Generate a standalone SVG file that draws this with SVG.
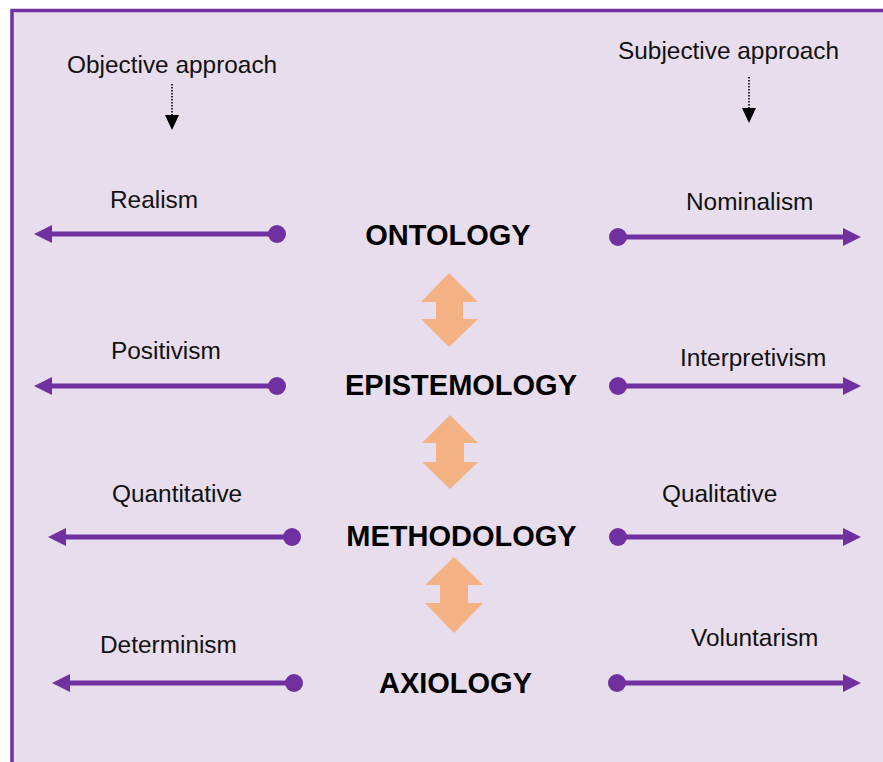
<svg xmlns="http://www.w3.org/2000/svg" width="883" height="762" viewBox="0 0 883 762">
  <style>
    .lbl { font-family: "Liberation Sans", Arial, sans-serif; font-size: 24.4px; fill: #111111; }
    .core { font-family: "Liberation Sans", Arial, sans-serif; font-size: 29px; font-weight: bold; fill: #000000; text-anchor: middle; }
    .scale { stroke: #7030A0; stroke-width: 5; fill: none; }
    .dot { fill: #7030A0; }
    .head { fill: #7030A0; }
    .dotted { stroke: #000000; stroke-width: 1.6; stroke-dasharray: 1.6 1.4; fill: none; }
    .pointer { fill: #000000; }
    .link { fill: #F4B183; }
  </style>

  <!-- background panel -->
  <rect x="0" y="0" width="883" height="762" fill="#ffffff"/>
  <rect x="12" y="10.5" width="900" height="800" fill="#E8DDEC" stroke="#7030A0" stroke-width="3.5"/>

  <!-- approach headings -->
  <g id="objective">
    <text class="lbl" x="67" y="73">Objective approach</text>
  </g>
  <g id="subjective">
    <text class="lbl" x="618" y="59">Subjective approach</text>
  </g>

  <!-- philosophy levels -->
  <g id="ontology"><text class="core" x="448" y="245">ONTOLOGY</text></g>
  <g id="epistemology"><text class="core" x="461" y="395">EPISTEMOLOGY</text></g>
  <g id="methodology"><text class="core" x="461.5" y="546">METHODOLOGY</text></g>
  <g id="axiology"><text class="core" x="455.5" y="693">AXIOLOGY</text></g>

  <!-- scale poles -->
  <g id="realism"><text class="lbl" x="110" y="208">Realism</text></g>
  <g id="nominalism"><text class="lbl" x="686" y="210">Nominalism</text></g>
  <g id="positivism"><text class="lbl" x="111" y="359">Positivism</text></g>
  <g id="interpretivism"><text class="lbl" x="680" y="366">Interpretivism</text></g>
  <g id="quantitative"><text class="lbl" x="112" y="502">Quantitative</text></g>
  <g id="qualitative"><text class="lbl" x="662" y="502">Qualitative</text></g>
  <g id="determinism"><text class="lbl" x="100" y="653">Determinism</text></g>
  <g id="voluntarism"><text class="lbl" x="691" y="646">Voluntarism</text></g>

  <g id="connectors">
    <!-- dotted pointers under the headings -->
    <line class="dotted" x1="172" y1="84" x2="172" y2="116"/>
    <path class="pointer" d="M165,115 L179,115 L172,130 Z"/>
    <line class="dotted" x1="749" y1="77" x2="749" y2="109"/>
    <path class="pointer" d="M742,108 L756,108 L749,123 Z"/>

    <!-- objective side scales (pointing left) -->
    <line class="scale" x1="277" y1="234" x2="48" y2="234"/>
    <circle class="dot" cx="277" cy="234" r="9"/>
    <path class="head" d="M34,234 L52,225 L52,243 Z"/>

    <line class="scale" x1="277" y1="386" x2="48" y2="386"/>
    <circle class="dot" cx="277" cy="386" r="9"/>
    <path class="head" d="M34,386 L52,377 L52,395 Z"/>

    <line class="scale" x1="292" y1="537" x2="62" y2="537"/>
    <circle class="dot" cx="292" cy="537" r="9"/>
    <path class="head" d="M48,537 L66,528 L66,546 Z"/>

    <line class="scale" x1="294" y1="683" x2="66" y2="683"/>
    <circle class="dot" cx="294" cy="683" r="9"/>
    <path class="head" d="M52,683 L70,674 L70,692 Z"/>

    <!-- subjective side scales (pointing right) -->
    <line class="scale" x1="618" y1="237" x2="847" y2="237"/>
    <circle class="dot" cx="618" cy="237" r="9"/>
    <path class="head" d="M861,237 L843,228 L843,246 Z"/>

    <line class="scale" x1="618" y1="386" x2="847" y2="386"/>
    <circle class="dot" cx="618" cy="386" r="9"/>
    <path class="head" d="M861,386 L843,377 L843,395 Z"/>

    <line class="scale" x1="618" y1="537" x2="847" y2="537"/>
    <circle class="dot" cx="618" cy="537" r="9"/>
    <path class="head" d="M861,537 L843,528 L843,546 Z"/>

    <line class="scale" x1="617" y1="683" x2="847" y2="683"/>
    <circle class="dot" cx="617" cy="683" r="9"/>
    <path class="head" d="M861,683 L843,674 L843,692 Z"/>

    <!-- two-way links between levels -->
    <path class="link" d="M449,273 L478,302 L463,302 L463,319 L478,319 L449,347 L421,319 L436,319 L436,302 L421,302 Z"/>
    <path class="link" d="M450,415 L478,443 L464,443 L464,462 L478,462 L450,489 L422,462 L436,462 L436,443 L422,443 Z"/>
    <path class="link" d="M454,557 L483,585 L468,585 L468,603 L483,603 L454,633 L425,603 L440,603 L440,585 L425,585 Z"/>
  </g>
</svg>
